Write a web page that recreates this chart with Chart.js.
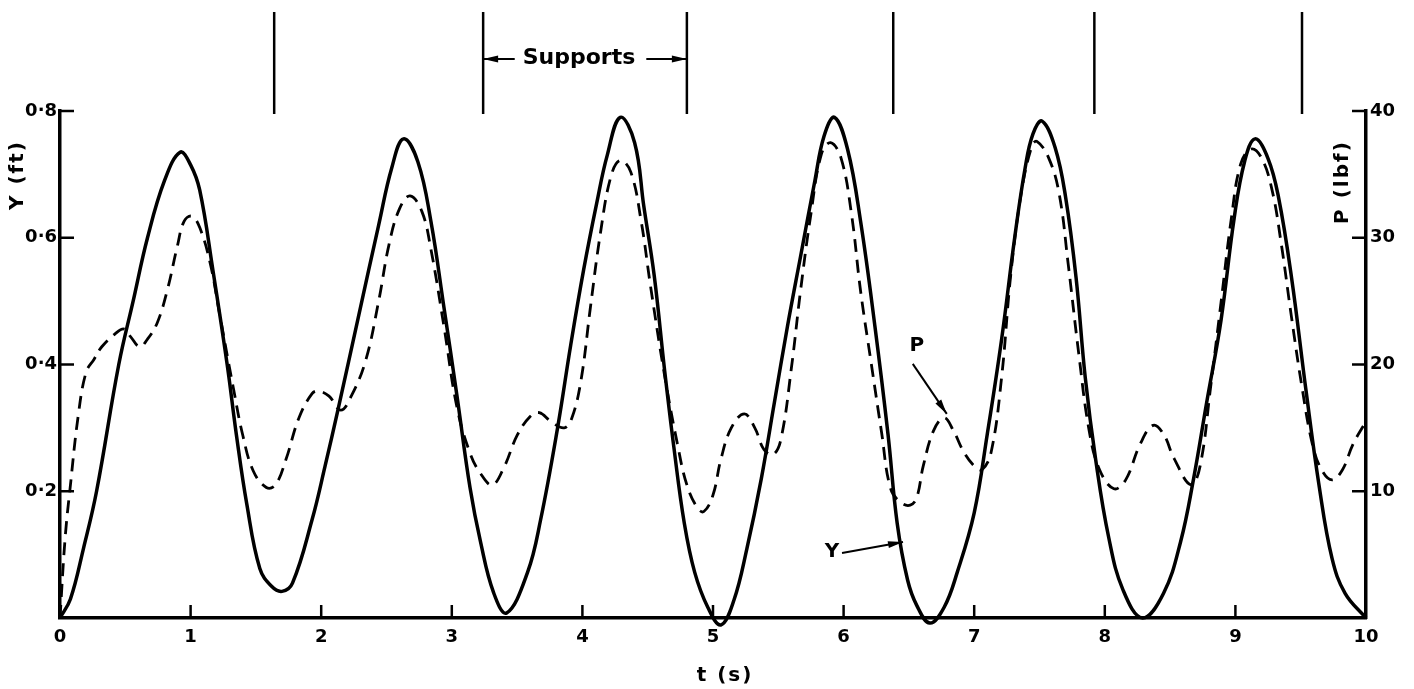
<!DOCTYPE html>
<html>
<head>
<meta charset="utf-8">
<script src="https://cdn.jsdelivr.net/npm/chart.js@4.4.3/dist/chart.umd.min.js"></script>
<style>
  html, body { margin: 0; padding: 0; background: #fff; }
  #wrap { width: 1414px; height: 689px; position: relative; }
</style>
</head>
<body>
<div id="wrap"><canvas id="chart"></canvas></div>
<script>
// Displacement Y (ft) against time t (s) - solid curve
const yTimes = [0, 0.08, 0.18, 0.28, 0.45, 0.56, 0.67, 0.8, 0.92, 1.0, 1.07, 1.17, 1.28, 1.35, 1.43, 1.53, 1.62, 1.7, 1.78, 1.93,
  2.03, 2.13, 2.29, 2.44, 2.54, 2.63, 2.74, 2.84, 2.94, 3.04, 3.14, 3.22, 3.32, 3.42, 3.58, 3.68, 3.81, 3.91, 4.01, 4.11,
  4.19, 4.29, 4.4, 4.47, 4.55, 4.63, 4.7, 4.78, 4.86, 4.96, 5.06, 5.16, 5.26, 5.37, 5.47, 5.57, 5.67, 5.78, 5.85, 5.93,
  6.03, 6.13, 6.24, 6.34, 6.41, 6.49, 6.56, 6.66, 6.77, 6.87, 7.0, 7.1, 7.21, 7.31, 7.39, 7.45, 7.52, 7.62, 7.7, 7.78,
  7.85, 7.93, 8.03, 8.14, 8.29, 8.45, 8.58, 8.68, 8.78, 8.89, 8.99, 9.07, 9.15, 9.25, 9.33, 9.43, 9.54, 9.64, 9.74, 9.84, 10];
const yValues = [0, 0.03, 0.11, 0.2, 0.4, 0.5, 0.6, 0.69, 0.735, 0.715, 0.675, 0.55, 0.4, 0.29, 0.18, 0.078, 0.05, 0.042, 0.055, 0.155,
  0.24, 0.33, 0.48, 0.62, 0.71, 0.756, 0.72, 0.626, 0.49, 0.35, 0.205, 0.12, 0.04, 0.008, 0.072, 0.155, 0.3, 0.43, 0.55, 0.655,
  0.73, 0.79, 0.75, 0.65, 0.54, 0.39, 0.27, 0.15, 0.072, 0.017, -0.011, 0.028, 0.11, 0.22, 0.34, 0.46, 0.57, 0.69, 0.76, 0.79,
  0.74, 0.626, 0.46, 0.29, 0.15, 0.06, 0.02, -0.008, 0.017, 0.072, 0.166, 0.29, 0.44, 0.6, 0.71, 0.764, 0.784, 0.742, 0.664, 0.537,
  0.38, 0.25, 0.127, 0.044, 0, 0.039, 0.12, 0.22, 0.34, 0.47, 0.63, 0.72, 0.756, 0.725, 0.664, 0.537, 0.36, 0.21, 0.094, 0.039, 0];

// Force P (lbf) against time t (s) - dashed curve
const pTimes = [0, 0.04, 0.08, 0.14, 0.2, 0.26, 0.32, 0.42, 0.49, 0.54, 0.61, 0.67, 0.745, 0.82, 0.9, 0.95, 1.01, 1.07, 1.15, 1.22,
  1.33, 1.4, 1.48, 1.58, 1.65, 1.73, 1.83, 1.93, 1.98, 2.06, 2.15, 2.23, 2.34, 2.44, 2.52, 2.6, 2.68, 2.77, 2.84, 2.94,
  3.04, 3.14, 3.22, 3.31, 3.4, 3.5, 3.6, 3.67, 3.76, 3.86, 3.92, 3.99, 4.06, 4.14, 4.22, 4.29, 4.37, 4.45, 4.52, 4.63,
  4.73, 4.8, 4.88, 4.93, 5.0, 5.06, 5.14, 5.24, 5.32, 5.39, 5.46, 5.52, 5.6, 5.67, 5.75, 5.83, 5.9, 5.98, 6.06, 6.13,
  6.21, 6.29, 6.36, 6.44, 6.51, 6.56, 6.61, 6.69, 6.77, 6.84, 6.92, 7.0, 7.06, 7.13, 7.21, 7.28, 7.36, 7.44, 7.48, 7.57,
  7.65, 7.72, 7.8, 7.88, 7.96, 8.07, 8.16, 8.27, 8.37, 8.45, 8.53, 8.66, 8.73, 8.81, 8.89, 8.97, 9.04, 9.12, 9.2, 9.28,
  9.35, 9.43, 9.51, 9.59, 9.66, 9.74, 9.82, 9.9, 10];
const pValues = [0, 6.4, 10.5, 16.0, 19.4, 20.4, 21.4, 22.4, 22.8, 22.2, 21.4, 22.0, 23.3, 25.8, 29.4, 31.3, 31.7, 30.8, 28.0, 24.1,
  18.0, 14.4, 11.6, 10.3, 10.5, 12.5, 15.8, 17.7, 17.9, 17.5, 16.4, 17.5, 20.3, 25.0, 29.5, 32.3, 33.3, 32.1, 29.1, 23.0,
  16.6, 13.0, 11.4, 10.5, 11.9, 14.4, 15.9, 16.2, 15.5, 15.0, 15.8, 18.8, 24.4, 30.5, 34.9, 36.1, 35.2, 31.3, 26.3, 19.1,
  13.6, 10.5, 8.7, 8.4, 9.7, 12.5, 15.0, 16.1, 15.0, 13.3, 12.9, 14.1, 19.7, 25.8, 31.9, 36.6, 37.5, 36.3, 31.9, 25.8,
  20.2, 14.7, 10.2, 9.1, 8.9, 9.5, 12.0, 14.8, 15.8, 14.8, 13.1, 12.0, 11.7, 13.1, 19.0, 27.1, 33.5, 37.2, 37.6, 36.3,
  33.5, 27.9, 20.9, 14.8, 11.7, 10.2, 10.9, 13.7, 15.2, 14.5, 12.6, 10.5, 12.0, 18.2, 24.9, 31.6, 35.8, 37.0, 36.3, 33.8,
  29.6, 23.7, 18.2, 13.7, 11.7, 10.9, 11.7, 13.7, 15.5];

const xTicks = [0, 1, 2, 3, 4, 5, 6, 7, 8, 9, 10];
const leftTicks = [0, 0.2, 0.4, 0.6, 0.8];
const rightTicks = [0, 10, 20, 30, 40];
const supportTimes = [1.64, 3.24, 4.8, 6.38, 7.92, 9.51];

const FONT = "'DejaVu Sans', sans-serif";
const INK = '#000';

const toPoints = (xs, ys) => xs.map((x, i) => ({ x: x, y: ys[i] }));

function arrow(ctx, x1, y1, x2, y2) {
    const a = Math.atan2(y2 - y1, x2 - x1);
    ctx.beginPath();
    ctx.moveTo(x1, y1);
    ctx.lineTo(x2, y2);
    ctx.stroke();
    ctx.beginPath();
    ctx.moveTo(x2, y2);
    ctx.lineTo(x2 - 15 * Math.cos(a) + 3.5 * Math.sin(a), y2 - 15 * Math.sin(a) - 3.5 * Math.cos(a));
    ctx.lineTo(x2 - 15 * Math.cos(a) - 3.5 * Math.sin(a), y2 - 15 * Math.sin(a) + 3.5 * Math.cos(a));
    ctx.closePath();
    ctx.fill();
}

function verticalText(ctx, text, x, y) {
    ctx.save();
    ctx.translate(x, y);
    ctx.rotate(-Math.PI / 2);
    ctx.fillText(text, 0, 0);
    ctx.restore();
}

// inward ticks, support markers and hand lettering
const decorations = {
    id: 'decorations',
    afterDraw(chart) {
        const { ctx, chartArea: area } = chart;
        const xs = chart.scales.x, yl = chart.scales.y, yr = chart.scales.y1;
        ctx.save();
        ctx.strokeStyle = INK;
        ctx.fillStyle = INK;
        ctx.lineWidth = 2.5;
        ctx.lineCap = 'butt';

        xTicks.slice(1, -1).forEach(v => {
            const px = xs.getPixelForValue(v);
            ctx.beginPath(); ctx.moveTo(px, area.bottom); ctx.lineTo(px, area.bottom - 13); ctx.stroke();
        });
        leftTicks.slice(1).forEach(v => {
            const py = yl.getPixelForValue(v);
            ctx.beginPath(); ctx.moveTo(area.left, py); ctx.lineTo(area.left + 14, py); ctx.stroke();
        });
        rightTicks.slice(1).forEach(v => {
            const py = yr.getPixelForValue(v);
            ctx.beginPath(); ctx.moveTo(area.right, py); ctx.lineTo(area.right - 14, py); ctx.stroke();
        });

        // support positions above the plot
        supportTimes.forEach(t => {
            const px = xs.getPixelForValue(t);
            ctx.beginPath(); ctx.moveTo(px, 12); ctx.lineTo(px, area.top + 3); ctx.stroke();
        });

        ctx.font = 'bold 22px ' + FONT;
        ctx.textAlign = 'center';
        ctx.textBaseline = 'middle';
        const xa = xs.getPixelForValue(supportTimes[1]);
        const xb = xs.getPixelForValue(supportTimes[2]);
        const cx = (xa + xb) / 2 - 6;
        ctx.fillText('Supports', cx, 58);
        const half = ctx.measureText('Supports').width / 2;
        ctx.lineWidth = 2;
        arrow(ctx, cx - half - 8, 59, xa, 59);
        arrow(ctx, cx + half + 11, 59, xb, 59);

        // curve labels
        ctx.font = 'bold 20px ' + FONT;
        const pTip = { x: xs.getPixelForValue(6.79), y: yr.getPixelForValue(16.1) };
        ctx.fillText('P', pTip.x - 30, pTip.y - 68);
        arrow(ctx, pTip.x - 34, pTip.y - 50, pTip.x, pTip.y);
        const yTip = { x: xs.getPixelForValue(6.455), y: yl.getPixelForValue(0.12) };
        ctx.fillText('Y', yTip.x - 71, yTip.y + 10);
        arrow(ctx, yTip.x - 61, yTip.y + 11, yTip.x, yTip.y);

        // axis titles
        ctx.font = 'bold 20px ' + FONT;
        ctx.letterSpacing = '2px';
        ctx.fillText('t (s)', 725, 676);
        verticalText(ctx, 'Y (ft)', 18, 175);
        verticalText(ctx, 'P (lbf)', 1343, 182);
        ctx.restore();
    }
};

const tickFont = { family: FONT, size: 18, weight: 'bold' };

new Chart(document.getElementById('chart'), {
    type: 'line',
    data: {
        datasets: [
            {
                label: 'Y',
                data: toPoints(yTimes, yValues),
                yAxisID: 'y',
                borderColor: INK,
                borderWidth: 3.5,
                pointRadius: 0,
                tension: 0.4,
                clip: false
            },
            {
                label: 'P',
                data: toPoints(pTimes, pValues),
                yAxisID: 'y1',
                borderColor: INK,
                borderWidth: 2.8,
                borderDash: [13, 8],
                pointRadius: 0,
                tension: 0.4,
                clip: false
            }
        ]
    },
    options: {
        responsive: true,
        maintainAspectRatio: false,
        animation: false,
        layout: { padding: { top: 111, left: 0, right: 0, bottom: 0 } },
        plugins: { legend: { display: false }, tooltip: { enabled: false } },
        scales: {
            x: {
                type: 'linear',
                min: 0,
                max: 10,
                afterBuildTicks: s => { s.ticks = xTicks.map(v => ({ value: v })); },
                afterFit: s => { s.height = 71; },
                grid: { display: false, drawTicks: false },
                border: { display: true, color: INK, width: 3.5 },
                ticks: { color: INK, font: tickFont, padding: 9, maxRotation: 0, callback: v => String(v) }
            },
            y: {
                position: 'left',
                min: 0,
                max: 0.8,
                afterBuildTicks: s => { s.ticks = leftTicks.map(v => ({ value: v })); },
                afterFit: s => { s.width = 60; },
                grid: { display: false, drawTicks: false },
                border: { display: true, color: INK, width: 3.5 },
                ticks: { color: INK, font: tickFont, padding: 3, callback: v => v === 0 ? '' : v.toFixed(1).replace('.', '\u00b7') }
            },
            y1: {
                position: 'right',
                min: 0,
                max: 40,
                afterBuildTicks: s => { s.ticks = rightTicks.map(v => ({ value: v })); },
                afterFit: s => { s.width = 48; },
                grid: { display: false, drawTicks: false },
                border: { display: true, color: INK, width: 3.5 },
                ticks: { color: INK, font: tickFont, padding: 4, callback: v => v === 0 ? '' : String(v) }
            }
        }
    },
    plugins: [decorations]
});
</script>
</body>
</html>
